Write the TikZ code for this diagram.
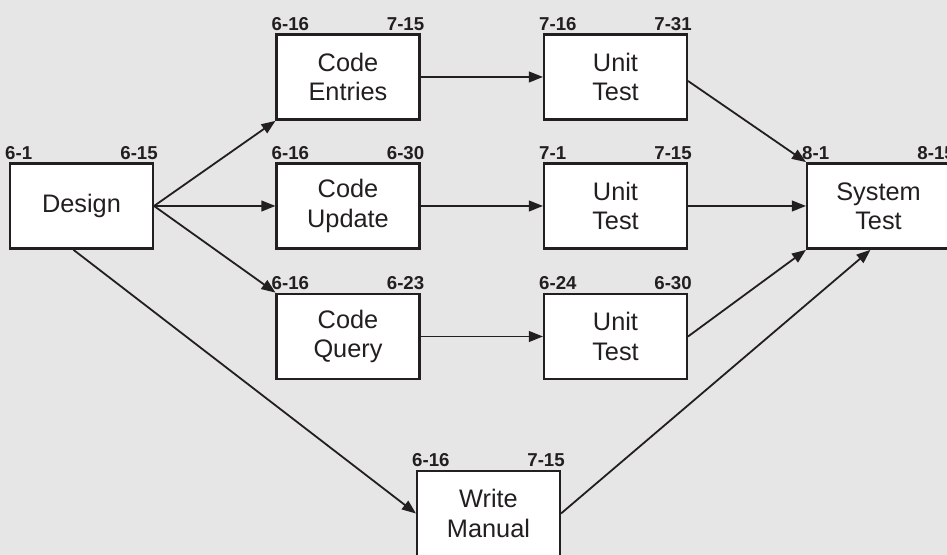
\documentclass[tikz,border=0pt]{standalone}
\usepackage{fontspec}
\setmainfont{Liberation Sans}
\usetikzlibrary{arrows.meta}
\definecolor{paper}{HTML}{E6E6E6}
\definecolor{ink}{HTML}{231F20}

\begin{document}
\begin{tikzpicture}[x=0.75pt, y=0.75pt, >={Triangle[length=10.5pt,width=8pt]},
  task/.style={draw=ink, line width=1.8pt, fill=white, minimum width=107pt, minimum height=64pt, inner sep=0pt, align=center, text=ink, font=\fontsize{19}{22}\selectfont},
  date/.style={font=\bfseries\fontsize{14}{14}\selectfont, inner sep=0pt, text=ink},
  startdate/.style={label={[date, anchor=south west, label distance=3.5pt]north west:#1}},
  enddate/.style={label={[date, anchor=south east, label distance=3.5pt]north east:#1}},
  link/.style={->, draw=ink, line width=1.35pt}]
\useasboundingbox (0,0) rectangle (947,555);
\clip (0,0) rectangle (947,555);
\fill[paper] (0,0) rectangle (947,555);

\node[task, startdate=6-1, enddate=6-15] (design) at (81.5,349) {Design};

\node[task, startdate=6-16, enddate=7-15] (entries) at (348,478) {Code\\Entries};
\node[task, startdate=6-16, enddate=6-30] (update) at (348,349) {Code\\Update};
\node[task, startdate=6-16, enddate=6-23] (query) at (348,218.5) {Code\\Query};

\node[task, startdate=7-16, enddate=7-31] (test1) at (615.5,478) {Unit\\Test};
\node[task, startdate=7-1, enddate=7-15] (test2) at (615.5,349) {Unit\\Test};
\node[task, startdate=6-24, enddate=6-30] (test3) at (615.5,218.5) {Unit\\Test};

\node[task, startdate=8-1, enddate=8-15] (system) at (878.5,349) {System\\Test};
\node[task, startdate=6-16, enddate=7-15] (manual) at (488.5,41.5) {Write\\Manual};

\draw[link] (design.east) -- (entries.south west);
\draw[link] (design.east) -- (update.west);
\draw[link] (design.east) -- (query.north west);
\draw[link] ([xshift=-6pt]design.south) -- (manual.west);

\draw[link] (entries) -- (test1);
\draw[link] (update) -- (test2);
\draw[link] (query) -- (test3);

\draw[link] ([yshift=-3pt]test1.east) -- (system.north west);
\draw[link] (test2) -- (system);
\draw[link] (test3.east) -- (system.south west);
\draw[link] (manual.east) -- ([xshift=-6pt]system.south);
\end{tikzpicture}
\end{document}
